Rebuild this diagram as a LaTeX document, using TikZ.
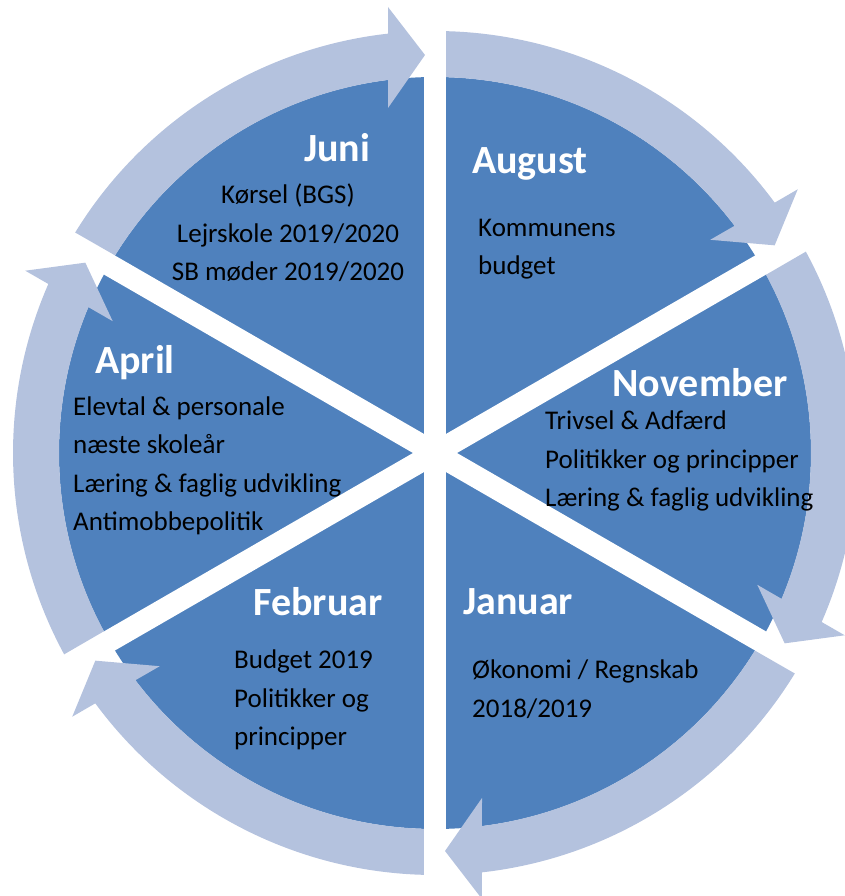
\documentclass[tikz,border=0pt]{standalone}
\usepackage{fontspec}
\setmainfont{Carlito}
\definecolor{segblue}{RGB}{79,129,189}
\definecolor{arrowblue}{RGB}{180,194,222}
\tikzset{
  month/.style={text=white, font=\fontsize{40}{48}\selectfont\bfseries, inner sep=0pt},
  entry/.style={text=black, font=\fontsize{27}{38.5}\selectfont, inner sep=0pt, align=left},
  band/.style={fill=arrowblue, draw=none},
}
\begin{document}
\begin{tikzpicture}[x=1pt, y=1pt]
   \clip (-435,-443) rectangle (410,453);

   % the pie and the white gaps
   \fill[segblue] (0,0) circle (376);
   \foreach \a in {30,90,150}
      \draw[white, line width=22pt] (\a:380) -- (\a+180:380);

   % one arrow per segment, turned by 60 degrees each time
   \foreach \r in {0,-60,...,-300}{
      \begin{scope}[rotate=\r]
         \fill[band] (148.5:422) arc[start angle=148.5, end angle=96.39, radius=422]
            -- (-47,446) -- (-10,398) -- (-47,345) -- (97.18:376)
            arc[start angle=97.18, end angle=148.3, radius=376] -- cycle;
      \end{scope}
   }

   \node[month] (juni) at (-98,305) {Juni};
   \node[entry, align=center] (juniTxt) at (-147,220) {Kørsel (BGS)\\Lejrskole 2019/2020\\SB møder 2019/2020};

   \node[month] (august) at (95,289) {August};
   \node[entry, anchor=west] (augustTxt) at (43,204) {Kommunens\\budget};

   \node[month] (november) at (265,70) {November};
   \node[entry, anchor=west] (novemberTxt) at (110,-8) {Trivsel \& Adfærd\\Politikker og principper\\Læring \& faglig udvikling};

   \node[month] (januar) at (83,-149) {Januar};
   \node[entry, anchor=west] (januarTxt) at (37,-236) {Økonomi / Regnskab\\2018/2019};

   \node[month] (februar) at (-117,-149) {Februar};
   \node[entry, anchor=west] (februarTxt) at (-201,-247) {Budget 2019\\Politikker og\\principper};

   \node[month] (april) at (-300,90) {April};
   \node[entry, anchor=west] (aprilTxt) at (-362,-13) {Elevtal \& personale\\næste skoleår\\Læring \& faglig udvikling\\Antimobbepolitik};

\end{tikzpicture}
\end{document}
